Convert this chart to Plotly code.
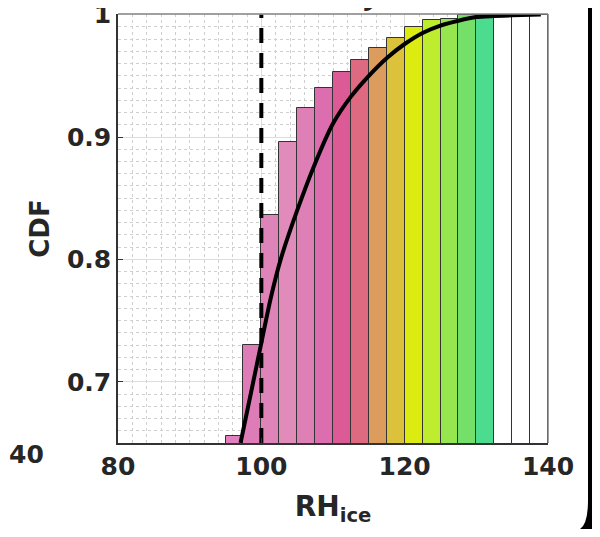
import plotly.graph_objects as go

# ---- data ----
bin_left = [95, 97.5, 100, 102.5, 105, 107.5, 110, 112.5, 115, 117.5,
            120, 122.5, 125, 127.5, 130, 132.5, 135, 137.5]
bin_cdf = [0.6557, 0.7298, 0.8363, 0.896, 0.924, 0.940, 0.953, 0.963, 0.973, 0.981,
           0.990, 0.9957, 0.9967, 0.9998, 1.0, 1.0, 1.0, 1.0]
bin_colors = ["#E080BE", "#DE7CB8", "#DE84B8", "#E08BBA", "#DE7FB5", "#DC6EB0",
              "#DC5A96", "#DE6A82", "#DC9C5E", "#DCC23A", "#DCEC10", "#BEEC2E",
              "#96E650", "#74E06A", "#4CDC90", "#FFFFFF", "#FFFFFF", "#FFFFFF"]
bin_width = 2.5

curve_x = [97.1, 99.9, 101.3, 102.7, 105, 107.4, 110, 112.5, 115, 117.6, 120,
           122.5, 125, 127.5, 130, 132.5, 135, 139]
curve_y = [0.65, 0.729, 0.768, 0.800, 0.840, 0.877, 0.911, 0.933, 0.950, 0.965, 0.976,
           0.985, 0.991, 0.995, 0.998, 0.9988, 0.9994, 1.0]

threshold = 100
x_ticks = [80, 100, 120, 140]
y_ticks = [0.7, 0.8, 0.9, 1.0]
y_tick_text = ["0.7", "0.8", "0.9", "1"]

FONT = "DejaVu Sans"
TXT = "#262626"

fig = go.Figure()
fig.add_trace(go.Bar(
    x=[b + bin_width / 2 for b in bin_left], y=bin_cdf, width=bin_width,
    marker=dict(color=bin_colors, line=dict(color="#333333", width=1)),
    showlegend=False, hoverinfo="skip"))
fig.add_trace(go.Scatter(
    x=[threshold, threshold], y=[0.65, 1.0], mode="lines",
    line=dict(color="black", width=4, dash="15px,10px"), showlegend=False))
fig.add_trace(go.Scatter(
    x=curve_x, y=curve_y, mode="lines",
    line=dict(color="black", width=4, shape="spline", smoothing=0.6),
    showlegend=False))

# page body has an 8px margin: figure coordinates = screen - 8
OFF = 8
W, H = 600 - 2 * OFF, 537 - 2 * OFF
L, T = 118 - OFF, 14 - OFF
pw, ph = 430, 429
R, B = W - L - pw, H - T - ph

def px(sx):
    return (sx - OFF - L) / pw

def py(sy):
    return (H - B - (sy - OFF)) / ph

fig.update_layout(
    width=W, height=H, margin=dict(l=L, r=R, t=T, b=B, autoexpand=False),
    paper_bgcolor="white", plot_bgcolor="white", bargap=0,
    font=dict(family=FONT, color=TXT),
    xaxis=dict(range=[80, 140], tickvals=x_ticks, ticks="inside", ticklen=5,
               tickcolor="#333", showline=True, linecolor="#333", linewidth=1.5,
               showgrid=True, gridcolor="#DDDDDD", gridwidth=1, automargin=False,
               ticklabeloverflow="allow",
               tickfont=dict(size=25, family=FONT, color=TXT, weight="bold"),
               minor=dict(dtick=2, tick0=80, showgrid=True, gridcolor="#CFCFCF",
                          griddash="dot", gridwidth=1),
               title=dict(text="RH<sub>ice</sub>", standoff=17,
                          font=dict(size=28, family=FONT, color=TXT, weight="bold")),
               zeroline=False),
    yaxis=dict(range=[0.65, 1.0005], tickvals=y_ticks, ticktext=y_tick_text,
               ticks="inside", ticklen=5, tickcolor="#333",
               showline=True, linecolor="#333", linewidth=1.5,
               showgrid=True, gridcolor="#DDDDDD", gridwidth=1, automargin=False,
               ticklabeloverflow="allow",
               tickfont=dict(size=25, family=FONT, color=TXT, weight="bold"),
               minor=dict(dtick=0.01, tick0=0.65, showgrid=True, gridcolor="#CFCFCF",
                          griddash="dot", gridwidth=1),
               title=dict(text="CDF", standoff=10,
                          font=dict(size=26, family=FONT, color=TXT, weight="bold")),
               zeroline=False),
)

# top and right box lines (lighter)
fig.add_shape(type="line", xref="paper", yref="paper", x0=0, x1=1, y0=1, y1=1,
              line=dict(color="#808080", width=1.5))
fig.add_shape(type="line", xref="paper", yref="paper", x0=1, x1=1, y0=0, y1=1,
              line=dict(color="#808080", width=1.5))

# clipped title (only the bottom of the glyphs is visible) and neighbour tick label
fig.add_annotation(text="MLS DJF", xref="paper", yref="paper", x=px(333), y=py(13),
                   yanchor="bottom", showarrow=False,
                   font=dict(size=26, family=FONT, color=TXT, weight="bold"))
fig.add_annotation(text="40", xref="paper", yref="paper", x=px(7), y=py(471),
                   xanchor="left", showarrow=False,
                   font=dict(size=25, family=FONT, color=TXT, weight="bold"))

# black rounded frame corner on the right (drawn at the figure's right edge)
xr = 592
path = "M {} {} L {} {} L {} {} L {} {} Q {} {} {} {} Z".format(
    px(xr - 4), py(8), px(xr), py(8), px(xr), py(529), px(xr - 12), py(529),
    px(xr - 4), py(524), px(xr - 4), py(500))
fig.add_shape(type="path", xref="paper", yref="paper", path=path,
              fillcolor="black", line=dict(color="black", width=0))

fig.write_html("out.html")
